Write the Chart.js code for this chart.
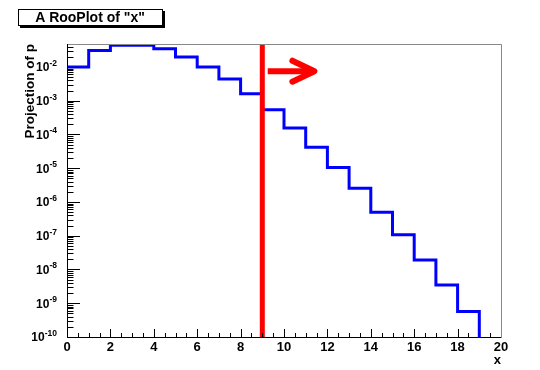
<!DOCTYPE html>
<html>
<head>
<meta charset="utf-8">
<script src="https://cdn.jsdelivr.net/npm/chart.js@4.4.0/dist/chart.umd.min.js"></script>
<style>
html, body { margin: 0; padding: 0; background: #fff; }
#c { display: block; }
</style>
</head>
<body>
<canvas id="c" width="540" height="370"></canvas>
<script>
var binLow = [0, 1, 2, 3, 4, 5, 6, 7, 8, 9, 10, 11, 12, 13, 14, 15, 16, 17, 18, 19];
var binValues = [0.0100, 0.031, 0.044, 0.044, 0.035, 0.0198, 0.0100, 0.0044, 0.0016, 0.00054,
    1.55e-4, 4.2e-5, 1.05e-5, 2.55e-6, 5.0e-7, 1.07e-7, 1.92e-8, 3.45e-9, 5.7e-10, 0];
var cutX = 9;
var arrowX = [9.25, 11.4];
var arrowY = 0.0075;
var xMajorLabels = [0, 2, 4, 6, 8, 10, 12, 14, 16, 18, 20];
var xMinorStep = 0.5;
var yDecades = [-10, -9, -8, -7, -6, -5, -4, -3, -2];
var yMin = 1e-10, yMax = 0.048;
var plotTitle = 'A RooPlot of "x"';
var yTitle = 'Projection of p';
var xTitle = 'x';

var FONT = "'Liberation Sans', Arial, sans-serif";

var histPoints = binLow.map(function (x, i) {
    return { x: x, y: binValues[i] > 0 ? binValues[i] : yMin };
});

// ticks point inward like ROOT, y labels are 10 with a raised exponent
var ticksAndFrame = {
    id: 'ticksAndFrame',
    afterDraw: function (chart) {
        var ctx = chart.ctx, a = chart.chartArea;
        var xs = chart.scales.x, ys = chart.scales.y;
        ctx.save();
        ctx.lineWidth = 1;
        ctx.strokeStyle = '#000';
        ys.ticks.forEach(function (t) {
            var y = Math.round(ys.getPixelForValue(t.value)) + 0.5;
            ctx.beginPath();
            ctx.moveTo(a.left, y);
            ctx.lineTo(a.left + (t.major ? 13 : 6.5), y);
            ctx.stroke();
        });
        xs.ticks.forEach(function (t) {
            var x = Math.round(xs.getPixelForValue(t.value)) + 0.5;
            ctx.beginPath();
            ctx.moveTo(x, a.bottom);
            ctx.lineTo(x, a.bottom - (t.major ? 8 : 4));
            ctx.stroke();
        });
        ctx.strokeStyle = '#888';
        ctx.beginPath();
        ctx.moveTo(a.left, a.top + 0.5);
        ctx.lineTo(a.right + 0.5, a.top + 0.5);
        ctx.lineTo(a.right + 0.5, a.bottom);
        ctx.stroke();
        ctx.strokeStyle = '#000';
        ctx.beginPath();
        ctx.moveTo(a.left + 0.5, a.top);
        ctx.lineTo(a.left + 0.5, a.bottom + 0.5);
        ctx.lineTo(a.right + 0.5, a.bottom + 0.5);
        ctx.stroke();

        ctx.fillStyle = '#000';
        var xr = a.left - 10;
        ys.ticks.forEach(function (t) {
            if (!t.major) return;
            var y = ys.getPixelForValue(t.value);
            var ex = String(t.exp);
            ctx.font = 'bold 8.5px ' + FONT;
            var we = ctx.measureText(ex).width;
            ctx.textAlign = 'left';
            ctx.textBaseline = 'alphabetic';
            ctx.fillText(ex, xr - we, y - 1);
            ctx.font = 'bold 12px ' + FONT;
            ctx.textAlign = 'right';
            ctx.textBaseline = 'middle';
            ctx.fillText('10', xr - we, y + 1);
        });
        ctx.restore();
    }
};

var cutArrow = {
    id: 'cutArrow',
    afterDatasetsDraw: function (chart) {
        var ctx = chart.ctx;
        var xs = chart.scales.x, ys = chart.scales.y;
        var x0 = xs.getPixelForValue(arrowX[0]), x1 = xs.getPixelForValue(arrowX[1]);
        var y = ys.getPixelForValue(arrowY);
        ctx.save();
        ctx.strokeStyle = '#ff0000';
        ctx.lineWidth = 6;
        ctx.lineCap = 'butt';
        ctx.beginPath();
        ctx.moveTo(x0, y);
        ctx.lineTo(x1 - 3, y);
        ctx.stroke();
        ctx.lineCap = 'round';
        ctx.lineJoin = 'round';
        ctx.beginPath();
        ctx.moveTo(x1 - 22, y - 10.5);
        ctx.lineTo(x1, y);
        ctx.lineTo(x1 - 22, y + 10.5);
        ctx.stroke();
        ctx.restore();
    }
};

var titleBox = {
    id: 'titleBox',
    afterDraw: function (chart) {
        var ctx = chart.ctx;
        ctx.save();
        ctx.fillStyle = '#000';
        ctx.fillRect(20, 11, 145, 17);
        ctx.fillStyle = '#fff';
        ctx.fillRect(18, 9, 145, 17);
        ctx.strokeStyle = '#000';
        ctx.lineWidth = 1;
        ctx.strokeRect(18.5, 9.5, 144, 16);
        ctx.fillStyle = '#000';
        ctx.font = 'bold 14px ' + FONT;
        ctx.textAlign = 'center';
        ctx.textBaseline = 'middle';
        ctx.fillText(plotTitle, 90, 18);
        ctx.restore();
    }
};

new Chart(document.getElementById('c'), {
    type: 'line',
    data: {
        datasets: [{
            label: 'cut',
            data: [{ x: cutX, y: yMin }, { x: cutX, y: yMax }],
            borderColor: '#ff0000',
            borderWidth: 5,
            borderCapStyle: 'butt',
            pointRadius: 0,
            order: 0
        }, {
            label: 'p',
            data: histPoints,
            stepped: 'before',
            borderColor: '#0000ff',
            borderWidth: 3,
            borderJoinStyle: 'miter',
            pointRadius: 0,
            fill: false,
            order: 1
        }]
    },
    options: {
        responsive: false,
        animation: false,
        devicePixelRatio: 1,
        layout: { padding: { left: 0, top: 44, right: 39, bottom: 0 } },
        plugins: { legend: { display: false }, tooltip: { enabled: false } },
        scales: {
            x: {
                type: 'linear',
                min: 0,
                max: 20,
                grid: { display: false, drawTicks: false },
                border: { display: false },
                afterBuildTicks: function (scale) {
                    var ticks = [];
                    for (var v = 0; v <= 20 + 1e-9; v += xMinorStep) {
                        ticks.push({ value: v, major: xMajorLabels.indexOf(v) >= 0 });
                    }
                    scale.ticks = ticks;
                },
                afterFit: function (scale) { scale.height = 33; },
                ticks: {
                    autoSkip: false,
                    maxRotation: 0,
                    padding: 3,
                    color: '#000',
                    font: { family: FONT, size: 13, weight: 'bold' },
                    callback: function (v) { return xMajorLabels.indexOf(v) >= 0 ? String(v) : ''; }
                },
                title: {
                    display: true,
                    text: xTitle,
                    align: 'end',
                    color: '#000',
                    font: { family: FONT, size: 13, weight: 'bold' },
                    padding: { top: 0, bottom: 2 }
                }
            },
            y: {
                type: 'logarithmic',
                min: yMin,
                max: yMax,
                grid: { display: false, drawTicks: false },
                border: { display: false },
                afterBuildTicks: function (scale) {
                    var ticks = [];
                    yDecades.forEach(function (e) {
                        for (var k = 1; k <= 9; k++) {
                            var v = k * Math.pow(10, e);
                            if (v >= yMin * 0.999 && v <= yMax) ticks.push({ value: v, major: k === 1, exp: e });
                        }
                    });
                    scale.ticks = ticks;
                },
                afterFit: function (scale) { scale.width = 67; },
                ticks: { display: false, autoSkip: false },
                title: {
                    display: true,
                    text: yTitle,
                    align: 'end',
                    color: '#000',
                    font: { family: FONT, size: 13.5, weight: 'bold' },
                    padding: { top: 22, bottom: 0 }
                }
            }
        }
    },
    plugins: [ticksAndFrame, cutArrow, titleBox]
});
</script>
</body>
</html>
